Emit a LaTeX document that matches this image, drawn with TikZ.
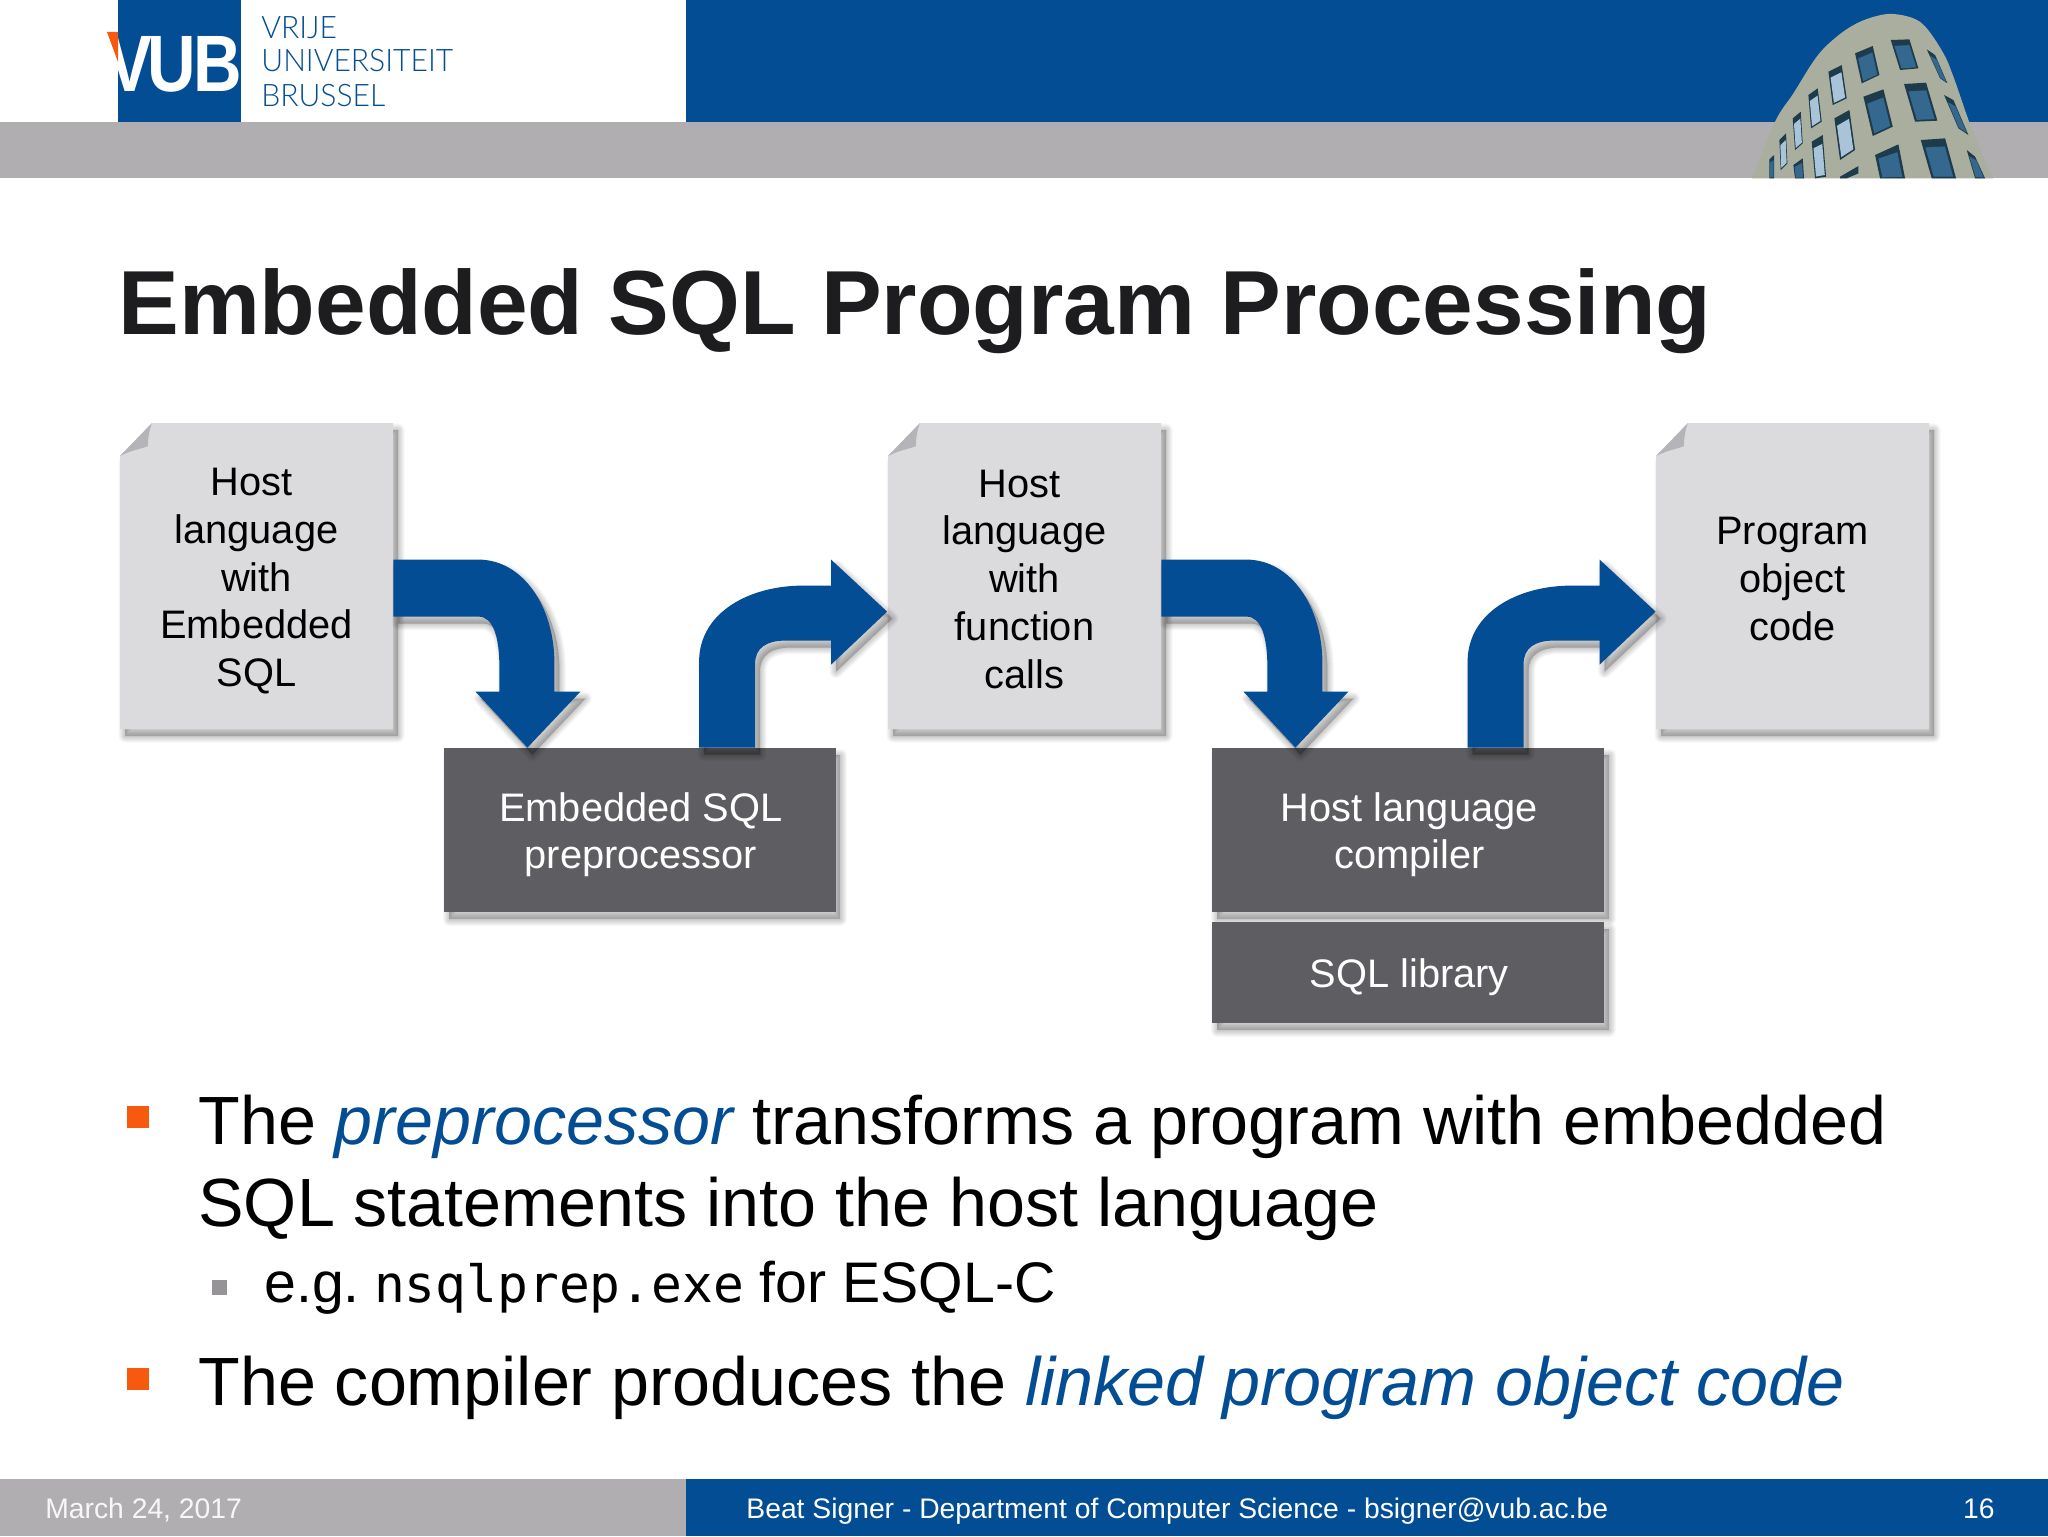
\documentclass[tikz,border=0pt]{standalone}
\usepackage{fontspec}
\setmainfont{Liberation Sans}
\newfontfamily\monofam{DejaVu Sans Mono}
\newfontfamily\logofam[UprightFont=* Light]{Lato}
\usetikzlibrary{calc}
\definecolor{vubblue}{HTML}{024D94}
\definecolor{vubgray}{HTML}{B0AEB1}
\definecolor{vuborange}{HTML}{F75A0F}
\definecolor{docgray}{HTML}{DBDBDE}
\definecolor{foldgray}{HTML}{B4B4B8}
\definecolor{boxgray}{HTML}{5E5D61}
\definecolor{inktext}{HTML}{1D1D1F}
\definecolor{stone}{HTML}{A9AE9F}
\definecolor{winshade}{HTML}{1E3B4C}
\definecolor{winglass}{HTML}{35688F}
\definecolor{winlight}{HTML}{A9C3D9}
\newcommand{\softshade}[2][]{%
  \foreach \w in {13,11,9,7,5,3,1}{%
    \path[shift={(5,7)},fill=black,draw=black,fill opacity=.03,draw opacity=.03,line width=\w*0.5pt,line join=round,#1] #2;}}
\newcommand{\winbase}[9]{%
  \fill[winshade] (#1,#2) -- (#3,#4) -- (#5,#6) -- (#7,#8) -- cycle;
  \fill[#9] ($(#1,#2)!.22!(#7,#8)!.10!(#3,#4)$) -- ($(#3,#4)!.22!(#5,#6)!.10!(#1,#2)$) -- ($(#5,#6)!.05!(#3,#4)!.10!(#7,#8)$) -- ($(#7,#8)!.05!(#1,#2)!.10!(#5,#6)$) -- cycle;}
\newcommand{\win}[8]{\winbase{#1}{#2}{#3}{#4}{#5}{#6}{#7}{#8}{winglass}}
\newcommand{\winl}[8]{\winbase{#1}{#2}{#3}{#4}{#5}{#6}{#7}{#8}{winlight}}
\newcommand{\nudge}[2]{\raisebox{#1}[\height][\depth]{#2}}
\newcommand{\hostword}{Host\kern5.3pt}
\tikzset{
  docnode/.style={inner sep=0pt,minimum width=136.5pt,minimum height=153pt,align=center,font=\fontsize{19.9}{23.9}\selectfont,text=black},
  toolnode/.style={fill=boxgray,inner sep=0pt,minimum width=196pt,align=center,text=white,font=\fontsize{19.9}{23.9}\selectfont},
  bigtext/.style={anchor=base west,inner sep=0pt,font=\fontsize{34.12}{40}\selectfont,text=black},
  logotext/.style={inner sep=0pt,anchor=base west,xscale=.97,text=vubblue,font=\fontsize{15.5}{16}\logofam\selectfont},
  footertext/.style={inner sep=0pt,text=white,font=\fontsize{14.14}{17}\selectfont}
}
\newcommand{\docshape}[1]{%
  \softshade{(#1+32,423) -- (#1+273,423) -- (#1+273,729) -- (#1,729) -- (#1,456) -- cycle}
  \fill[docgray] (#1+32,423) -- (#1+273,423) -- (#1+273,729) -- (#1,729) -- (#1,456) -- cycle;
  \fill[foldgray] (#1+32,423) -- (#1,456) .. controls (#1+12,450) and (#1+24,448) .. (#1+28,446) .. controls (#1+28,438) and (#1+29,430) .. (#1+32,423) -- cycle;}
\newcommand{\arrowdownpath}{(0,137) -- (85,137) .. controls (130,137) and (161,185) .. (161,240) -- (161,269) -- (187,269) -- (134,325) -- (82,269) -- (106,269) -- (106,245) .. controls (106,215) and (100,194) .. (85,194) -- (0,194) -- cycle}
\newcommand{\arrowuppath}{(0,0) -- (0,-86) .. controls (0,-135) and (50,-162) .. (104,-162) -- (132,-162) -- (132,-188) -- (188,-136) -- (132,-83) -- (132,-107) -- (86,-107) .. controls (68,-107) and (56,-100) .. (56,-84) -- (56,0) -- cycle}
\begin{document}
\begin{tikzpicture}[x=0.5pt,y=-0.5pt]
\useasboundingbox (0,0) rectangle (2048,1536);
\fill[white] (0,0) rectangle (2048,1536);
\fill[vubblue] (686,0) rectangle (2048,122);
\fill[vubgray] (0,122) rectangle (2048,178);
% footer
\fill[vubgray] (0,1479) rectangle (686,1536);
\fill[vubblue] (686,1479) rectangle (2048,1536);
% VUB logo
\fill[vubblue] (118,0) rectangle (241,122);
\node[inner sep=0pt,text=white,anchor=base west,xscale=.84,font=\fontsize{40}{40}\bfseries\selectfont] (vub) at (107,91) {V\kern-3pt U\kern-1pt B};
\fill[vuborange] (107,32) -- (118,32) -- (118,62) -- cycle;
\node[logotext] (vrije) at (261,39) {VRIJE};
\node[logotext] (univ) at (261,72) {UNIVERSITEIT};
\node[logotext] (bru) at (261,106) {BRUSSEL};
% building
\begin{scope}[shift={(1650,0)},x=0.1667pt,y=-0.1667pt]
\fill[stone] plot[smooth,tension=.6] coordinates {(305,535) (375,365) (430,280) (500,170) (560,110) (620,70) (680,48) (730,42) (790,55) (830,85) (880,160) (910,230) (970,400) (1030,535)} -- cycle;
\win{615}{160}{668}{138}{688}{225}{635}{250}
\win{722}{120}{778}{118}{805}{205}{750}{210}
\win{830}{148}{855}{165}{892}{250}{870}{235}
\winl{535}{215}{575}{195}{590}{295}{548}{315}
\win{640}{290}{700}{268}{728}{380}{668}{408}
\win{762}{252}{828}{248}{862}{362}{795}{365}
\win{882}{285}{910}{300}{955}{405}{925}{385}
\winl{475}{285}{503}{265}{515}{365}{483}{385}
\winl{553}{355}{598}{330}{615}{450}{570}{480}
\win{675}{465}{745}{433}{765}{535}{690}{535}
\win{812}{420}{885}{415}{918}{535}{845}{535}
\win{950}{450}{975}{470}{1005}{535}{975}{535}
\winl{428}{355}{452}{335}{458}{430}{435}{450}
\winl{485}{425}{518}{405}{528}{530}{495}{535}
\winl{388}{420}{408}{400}{412}{490}{392}{510}
\win{430}{495}{458}{475}{462}{535}{435}{535}
\win{358}{478}{372}{465}{372}{535}{358}{535}
\fill[winshade] (570,530) -- (625,498) -- (625,520) -- (590,535) -- (570,535) -- cycle;
\end{scope}
% title
\node[inner sep=0pt,anchor=base west,text=inktext,font=\fontsize{45.5}{50}\bfseries\selectfont] (title) at (118,334) {Embedded SQL Program Processing};
% document shapes
\docshape{120}
\docshape{888}
\docshape{1656}
\node[docnode] (doc1) at (256.5,576) {\nudge{-2.6pt}{\parbox{130pt}{\centering \hostword\\language\\with\\Embedded\\SQL}}};
\node[docnode] (doc2) at (1024.5,576) {\nudge{-1.6pt}{\parbox{130pt}{\centering \hostword\\language\\with\\function\\calls}}};
\node[docnode] (doc3) at (1792.5,576) {\nudge{-1.6pt}{\parbox{130pt}{\centering Program\\object\\code}}};
% tools
\foreach \a/\b/\c/\d in {444/748/835/912,1212/748/1604/912,1212/922/1604/1023}{
  \softshade{(\a,\b) rectangle (\c,\d)}}
\node[toolnode,minimum height=82pt] (prep) at (639.5,830) {\kern1.3pt\nudge{-2.3pt}{\parbox{190pt}{\centering Embedded SQL\\preprocessor}}};
\node[toolnode,minimum height=82pt] (comp) at (1408,830) {\kern1.3pt\nudge{-2.3pt}{\parbox{190pt}{\centering Host language\\compiler}}};
\node[toolnode,minimum height=50.5pt] (lib) at (1408,972.5) {\kern1.3pt\nudge{-2.5pt}{SQL library}};
% arrows
\begin{scope}[shift={(doc1.north east)}]
  \softshade{\arrowdownpath}
  \fill[vubblue] \arrowdownpath;
\end{scope}
\begin{scope}[shift={(doc2.north east)}]
  \softshade{\arrowdownpath}
  \fill[vubblue] \arrowdownpath;
\end{scope}
\begin{scope}[shift={(prep.north west)},xshift=128pt]
  \softshade{\arrowuppath}
  \fill[vubblue] \arrowuppath;
\end{scope}
\begin{scope}[shift={(comp.north west)},xshift=128pt]
  \softshade{\arrowuppath}
  \fill[vubblue] \arrowuppath;
\end{scope}
% bullets
\fill[vuborange] (127,1106) rectangle (149,1128);
\fill[vuborange] (127,1368) rectangle (149,1390);
\fill[vubgray!85!black] (212,1280) rectangle (227,1295);
\node[bigtext] (l1) at (198,1144) {The {\color{vubblue}\itshape preprocessor} transforms a program with embedded};
\node[bigtext] (l2) at (198,1226) {SQL statements into the host language};
\node[bigtext,font=\fontsize{28.6}{35}\selectfont] (l3) at (264,1302) {e.g.\kern-.8pt\ {\monofam\fontsize{25.6}{30}\selectfont nsqlprep.exe} for ESQL-C};
\node[bigtext] (l4) at (198,1405) {The compiler produces the {\color{vubblue}\itshape linked program object code}};
% footer text
\node[footertext,anchor=base west,text=white!90!vubgray] (date) at (45,1518) {March 24, 2017};
\node[footertext,anchor=base west] (foot) at (746,1518) {Beat Signer - Department of Computer Science - bsigner@vub.ac.be};
\node[footertext,anchor=base east] (page) at (1995,1518) {16};
\end{tikzpicture}
\end{document}
